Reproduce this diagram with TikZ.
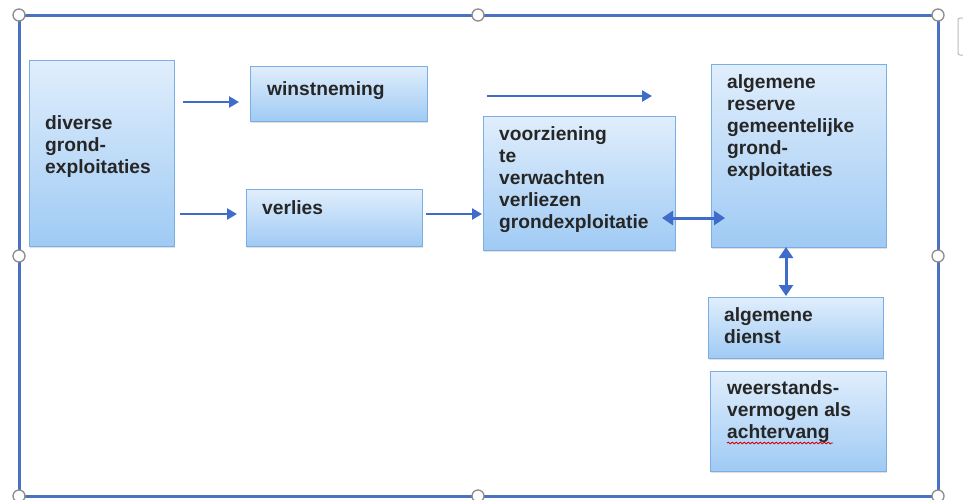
\documentclass[tikz,border=0pt]{standalone}
\usepackage{fontspec}
\setmainfont{Liberation Sans}
\usetikzlibrary{arrows.meta,shadows,decorations.pathmorphing}
\definecolor{frameblue}{HTML}{4A72C0}
\definecolor{arrblue}{HTML}{3E6CC8}
\definecolor{boxtop}{HTML}{E0EEFC}
\definecolor{boxbot}{HTML}{9FCAF4}
\definecolor{boxedge}{HTML}{7BAEE2}
\definecolor{txt}{HTML}{262626}
\definecolor{handle}{HTML}{8C8C8C}
\tikzset{
  bluebox/.style={rectangle, anchor=north west, draw=boxedge, line width=1.2pt,
    top color=boxtop, bottom color=boxbot, inner sep=0pt,
    drop shadow={shadow xshift=0.6pt, shadow yshift=-1.8pt, opacity=0.2, fill=black!60}},
  boxtext/.style={anchor=north west, inner sep=0pt, align=left, text=txt,
    font=\fontsize{19.2}{22}\selectfont\bfseries, execute at begin node=\strut},
  arr/.style={draw=arrblue, line width=2.8pt, -{Triangle[length=10pt,width=11pt]}},
  darr/.style={draw=arrblue, line width=3pt, {Triangle[length=11pt,width=14pt]}-{Triangle[length=11pt,width=14pt]}},
  handlecirc/.style={draw=handle, fill=white, line width=1.3pt}
}
\begin{document}
\begin{tikzpicture}[x=1pt,y=-1pt]
\useasboundingbox (0,0) rectangle (963,499);
% partial gray box at right edge
\begin{scope}
\clip (0,0) rectangle (963,499);
\draw[handle!60, line width=1pt, rounded corners=2pt] (958,18) rectangle (975,55);
\end{scope}
% outer frame
\draw[frameblue, line width=3pt] (19,15) rectangle (938,496);
% boxes
\node[bluebox, minimum width=145pt, minimum height=186pt] (div) at (29,60) {};
\node[bluebox, minimum width=177pt, minimum height=55pt] (win) at (250,66) {};
\node[bluebox, minimum width=176pt, minimum height=57pt] (ver) at (246,189) {};
\node[bluebox, minimum width=192pt, minimum height=134pt] (voo) at (483,116) {};
\node[bluebox, minimum width=175pt, minimum height=183pt] (res) at (711,64) {};
\node[bluebox, minimum width=175pt, minimum height=61pt] (alg) at (708,297) {};
\node[bluebox, minimum width=176pt, minimum height=100pt] (wee) at (710,371) {};
% texts
\node[boxtext] (divt) at (45,115.6) {diverse\\grond-\\exploitaties};
\node[boxtext] (wint) at (267,79.6) {winstneming};
\node[boxtext] (vert) at (262,198.6) {verlies};
\node[boxtext] (voot) at (499,126.6) {voorziening\\te\\verwachten\\verliezen\\grondexploitatie};
\node[boxtext] (rest) at (727,74.6) {algemene\\reserve\\gemeentelijke\\grond-\\exploitaties};
\node[boxtext] (algt) at (724,307) {algemene\\dienst};
\node[boxtext] (weet) at (727,380) {weerstands-\\vermogen als\\achtervang};
% spelling underline
\coordinate (u1) at (727,443);
\coordinate (u2) at (833,443);
\draw[red!85!black, line width=0.9pt, decorate, decoration={snake, amplitude=0.8pt, segment length=4pt}] (u1) -- (u2);
% connectors
\coordinate (w1) at (183,102); \coordinate (w2) at (239,102);
\coordinate (v1) at (180,214); \coordinate (v2) at (237,214);
\coordinate (x1) at (426,214); \coordinate (x2) at (482,214);
\coordinate (t1) at (487,96);  \coordinate (t2) at (652,96);
\coordinate (h1) at (662,218); \coordinate (h2) at (725,218);
\coordinate (d1) at (786,247); \coordinate (d2) at (786,296);
\draw[arr] (w1) -- (w2);
\draw[arr] (v1) -- (v2);
\draw[arr] (x1) -- (x2);
\draw[arr] (t1) -- (t2);
\draw[darr] (h1) -- (h2);
\draw[darr] (d1) -- (d2);
% selection handles
\foreach \p in {(19,15),(478,15),(938,15),(19,256),(938,256),(19,496),(478,496),(938,496)}
  \draw[handlecirc] \p circle (6);
\end{tikzpicture}
\end{document}
